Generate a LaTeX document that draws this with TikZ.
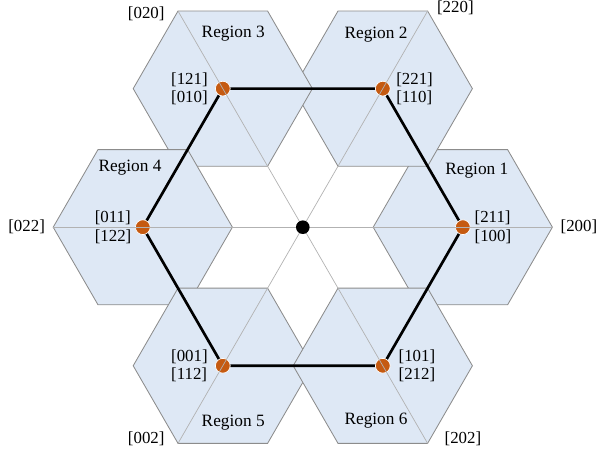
\documentclass[tikz,border=0pt]{standalone}
\usepackage{fontspec}
\setmainfont{Liberation Serif}
\usetikzlibrary{calc}
\definecolor{HexFill}{RGB}{222,232,245}
\definecolor{HexEdge}{RGB}{140,140,140}
\definecolor{AxisGray}{RGB}{178,178,178}
\definecolor{DotOrange}{RGB}{197,90,17}
\def\hexR{2.24}
\def\hexD{4}
% #1 name, #2 angle of the centre
\newcommand{\hexregion}[2]{%
	\coordinate (#1) at (#2:\hexD);
	\draw[HexEdge, fill=HexFill, line width=0.6pt, line join=miter]
	(#1) ++(0:\hexR) -- ++(120:\hexR) -- ++(180:\hexR)
	-- ++(240:\hexR) -- ++(300:\hexR) -- ++(0:\hexR) -- cycle;
}
\tikzset{
	axisline/.style={AxisGray, line width=0.5pt},
	pathline/.style={black, line width=1.9pt, line join=round},
	odot/.style={circle, fill=DotOrange, draw=white, line width=0.5pt,
		minimum size=0.37cm, inner sep=0pt},
	cdot/.style={circle, fill=black, minimum size=0.34cm, inner sep=0pt},
	lbl/.style={align=left, inner sep=0pt,
		font=\fontsize{12}{13.2}\selectfont},
	regionlbl/.style={inner sep=0pt, font=\fontsize{12.3}{14}\selectfont}
}

\begin{document}
\begin{tikzpicture}[line cap=round]
	\useasboundingbox (-7.57,-5.645) rectangle (7.505,5.68);
	
	% -- Hexagons (later ones on top) ----------------------------
	\hexregion{h1}{0}
	\hexregion{h2}{60}
	\hexregion{h3}{120}
	\hexregion{h4}{180}
	\hexregion{h5}{240}
	\hexregion{h6}{300}
	
	% -- Black path through the region centres --------------------
	\draw[pathline] (h1) -- (h2) -- (h3) -- (h4) -- (h5) -- (h6) -- cycle;
	
	\node[odot] (d1) at (h1) {};
	\node[odot] (d2) at (h2) {};
	\node[odot] (d3) at (h3) {};
	\node[odot] (d4) at (h4) {};
	\node[odot] (d5) at (h5) {};
	\node[odot] (d6) at (h6) {};
	
	% -- Outer corners and grey axes ------------------------------
	\coordinate (v200) at (0:{\hexD+\hexR});
	\coordinate (v220) at (60:{\hexD+\hexR});
	\coordinate (v020) at (120:{\hexD+\hexR});
	\coordinate (v022) at (180:{\hexD+\hexR});
	\coordinate (v002) at (240:{\hexD+\hexR});
	\coordinate (v202) at (300:{\hexD+\hexR});
	
	\draw[axisline] (v200) -- (v022);
	\draw[axisline] (v220) -- (v002);
	\draw[axisline] (v020) -- (v202);
	
	\node[cdot] (o) at (0,0) {};
	
	% -- Labels at the dots ---------------------------------------
	\node[lbl, anchor=west] (l1) at ($(d1)+(0.29,0)$) {[211]\\{}[100]};
	\node[lbl, anchor=west] (l2) at ($(d2)+(0.33,0)$) {[221]\\{}[110]};
	\node[lbl, anchor=east] (l3) at ($(d3)+(-0.37,0)$) {[121]\\{}[010]};
	\node[lbl, anchor=east] (l4) at ($(d4)+(-0.28,0)$) {[011]\\{}[122]};
	\node[lbl, anchor=east] (l5) at ($(d5)+(-0.37,0)$) {[001]\\{}[112]};
	\node[lbl, anchor=west] (l6) at ($(d6)+(0.39,0)$) {[101]\\{}[212]};
	
	% -- Region names ---------------------------------------------
	\node[regionlbl] (r1) at ($(h1)+(0.35,1.41)$) {Region 1};
	\node[regionlbl] (r2) at ($(h2)+(-0.17,1.36)$) {Region 2};
	\node[regionlbl] (r3) at ($(h3)+(0.26,1.38)$) {Region 3};
	\node[regionlbl] (r4) at ($(h4)+(-0.32,1.49)$) {Region 4};
	\node[regionlbl] (r5) at ($(h5)+(0.26,-1.42)$) {Region 5};
	\node[regionlbl] (r6) at ($(h6)+(-0.17,-1.36)$) {Region 6};
	
	% -- Outer corner labels --------------------------------------
	\node[lbl, anchor=west] (c200) at ($(v200)+(0.2,0)$) {[200]};
	\node[lbl, anchor=west] (c220) at ($(v220)+(0.23,0.07)$) {[220]};
	\node[lbl, anchor=east] (c020) at ($(v020)+(-0.33,-0.06)$) {[020]};
	\node[lbl, anchor=east] (c022) at ($(v022)+(-0.2,0)$) {[022]};
	\node[lbl, anchor=east] (c002) at ($(v002)+(-0.33,0.12)$) {[002]};
	\node[lbl, anchor=west] (c202) at ($(v202)+(0.42,0.12)$) {[202]};
	
\end{tikzpicture}
\end{document}
